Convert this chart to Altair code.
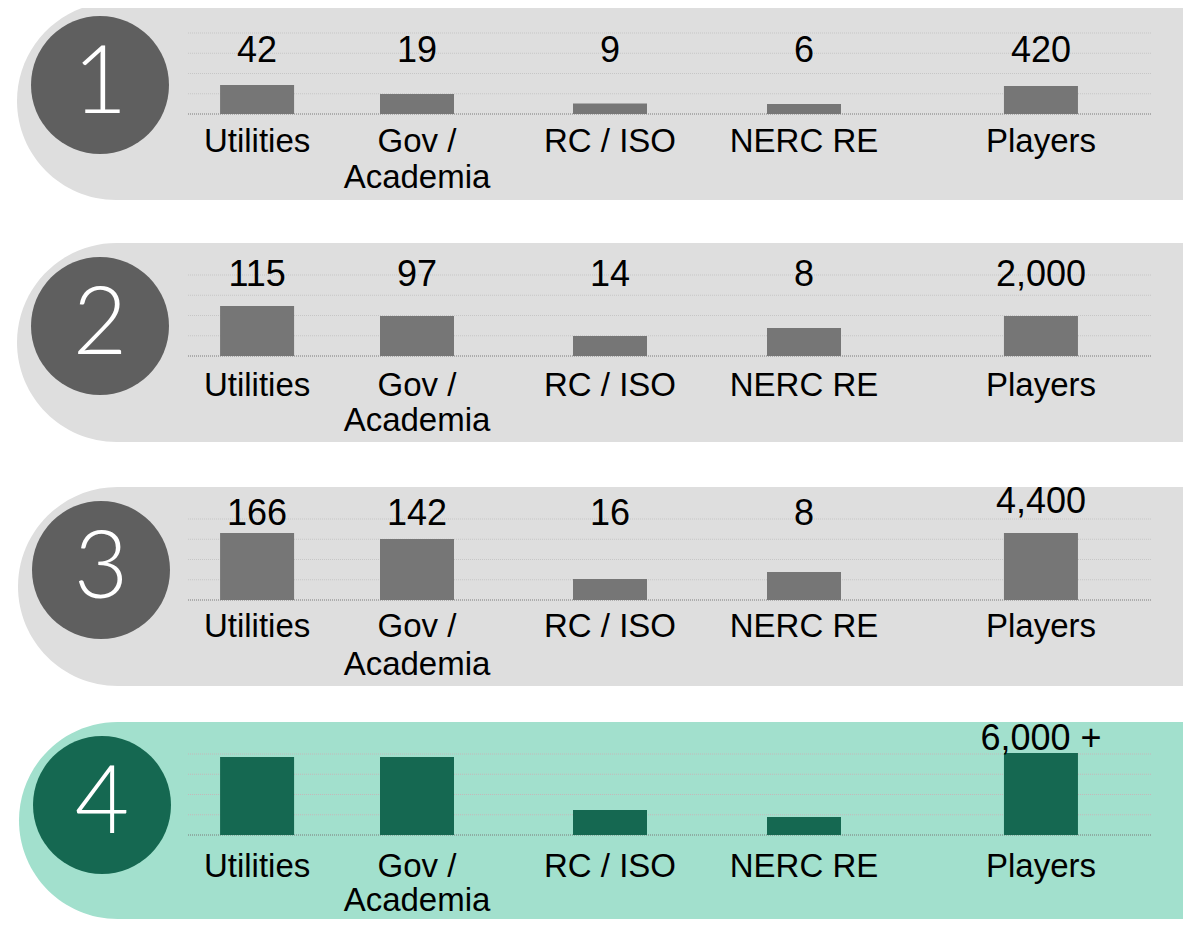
import altair as alt
import pandas as pd

# ---------------- data ----------------
categories = ["Utilities", "Gov /\nAcademia", "RC / ISO", "NERC RE", "Players"]
steps = ["1", "2", "3", "4"]
# bar heights in gridline units (one gridline step = 1)
bar_heights = [
    [1.43, 0.99, 0.52, 0.49, 1.38],
    [2.47, 1.98, 0.99, 1.38, 1.98],
    [3.31, 3.01, 1.04, 1.38, 3.31],
    [3.85, 3.85, 1.23, 0.89, 4.05],
]
value_labels = [
    ["42", "19", "9", "6", "420"],
    ["115", "97", "14", "8", "2,000"],
    ["166", "142", "16", "8", "4,400"],
    ["", "", "", "", "6,000 +"],
]
grid_levels = [1, 2, 3, 4]

# ---------------- layout / style ----------------
W = 1175
UNIT = 20.25
SLOT_PX = [245, 409, 602, 796, 1039]
BAR_W = 74
CIRCLE_SIZE = 19044  # (diameter 138)^2

VALUE_FONT = "Liberation Sans, Arial, sans-serif"
CAT_FONT = "Liberation Sans, Arial, sans-serif"
STEP_FONT = "Lato, Open Sans, sans-serif"

GRAY = dict(band="#dedede", circle="#5f5f5f", bar="#767676", grid="#c6c6c6", base="#7a7a7a")
TEAL = dict(band="#a2e0cd", circle="#156851", bar="#156851", grid="#c4b8ba", base="#7a7a7a")

LAYOUT = [
    dict(h=213, base=106, band=(-6, 192), left=9, circle=(92, 77), rise=52, rise_last=52,
         drop=38, line=36, col=GRAY),
    dict(h=243, base=135, band=(22, 221), left=9, circle=(92, 105), rise=70, rise_last=70,
         drop=40, line=35, col=GRAY),
    dict(h=240, base=136, band=(23, 222), left=10, circle=(93, 106), rise=75, rise_last=87,
         drop=37, line=38, col=GRAY),
    dict(h=215, base=131, band=(18, 215), left=11, circle=(94, 101), rise=85, rise_last=85,
         drop=42, line=34, col=TEAL),
]


def row_chart(i):
    L = LAYOUT[i]
    h, b, col = L["h"], L["base"], L["col"]
    yscale = alt.Scale(domain=[-(h - b) / UNIT, b / UNIT], zero=False, nice=False)
    xscale = alt.Scale(type="linear", domain=list(range(5)), range=SLOT_PX, zero=False, nice=False)

    df = pd.DataFrame({
        "slot": list(range(5)),
        "category": categories,
        "height": bar_heights[i],
        "label": value_labels[i],
    })
    step_df = pd.DataFrame({"step": [steps[i]]})
    grid_df = pd.DataFrame({"g": grid_levels})
    base_df = pd.DataFrame({"g": [0]})

    top, bot = L["band"]
    r = (bot - top) / 2
    band = alt.Chart(step_df).mark_rect(
        color=col["band"], cornerRadiusTopLeft=r, cornerRadiusBottomLeft=r, clip=True
    ).encode(x=alt.value(L["left"]), x2=alt.value(W), y=alt.value(top), y2=alt.value(bot))

    grid = alt.Chart(grid_df).mark_rule(strokeDash=[1, 1], strokeWidth=1, color=col["grid"]).encode(
        y=alt.Y("g:Q", scale=yscale, axis=None), x=alt.value(180), x2=alt.value(1144)
    )
    baseline = alt.Chart(base_df).mark_rule(strokeDash=[1, 1], strokeWidth=1, color=col["base"]).encode(
        y=alt.Y("g:Q", scale=yscale, axis=None), x=alt.value(180), x2=alt.value(1144)
    )

    bars = alt.Chart(df).mark_bar(size=BAR_W, color=col["bar"]).encode(
        x=alt.X("slot:Q", scale=xscale, axis=None),
        y=alt.Y("height:Q", scale=yscale, axis=None),
    )

    cx, cy = L["circle"]
    circle = alt.Chart(step_df).mark_circle(size=CIRCLE_SIZE, opacity=1, color=col["circle"]).encode(
        x=alt.value(cx), y=alt.value(cy)
    )
    step_text = alt.Chart(step_df).mark_text(
        font=STEP_FONT, fontWeight=300, fontSize=94, color="white", align="center", baseline="alphabetic"
    ).encode(x=alt.value(cx), y=alt.value(cy + 28), text="step:N")

    vtxt = dict(font=VALUE_FONT, fontSize=36, color="black", align="center", baseline="alphabetic")
    values = alt.Chart(df).transform_filter("datum.slot < 4").mark_text(**vtxt).encode(
        x=alt.X("slot:Q", scale=xscale, axis=None), y=alt.value(b - L["rise"]), text="label:N"
    )
    value_last = alt.Chart(df).transform_filter("datum.slot == 4").mark_text(**vtxt).encode(
        x=alt.X("slot:Q", scale=xscale, axis=None), y=alt.value(b - L["rise_last"]), text="label:N"
    )

    cats = alt.Chart(df).mark_text(
        font=CAT_FONT, fontSize=33, color="black", align="center", baseline="alphabetic",
        lineBreak="\n", lineHeight=L["line"]
    ).encode(x=alt.X("slot:Q", scale=xscale, axis=None), y=alt.value(b + L["drop"]), text="category:N")

    return alt.layer(band, grid, baseline, bars, circle, step_text, values, value_last, cats).properties(
        width=W, height=h
    )


chart = (
    alt.vconcat(*[row_chart(i) for i in range(4)], spacing=0, bounds="flush")
    .resolve_scale(x="independent", y="independent")
    .properties(padding=0, background="white")
    .configure_view(stroke=None)
)

chart.save("out.html", embed_options={"renderer": "svg", "actions": False})
